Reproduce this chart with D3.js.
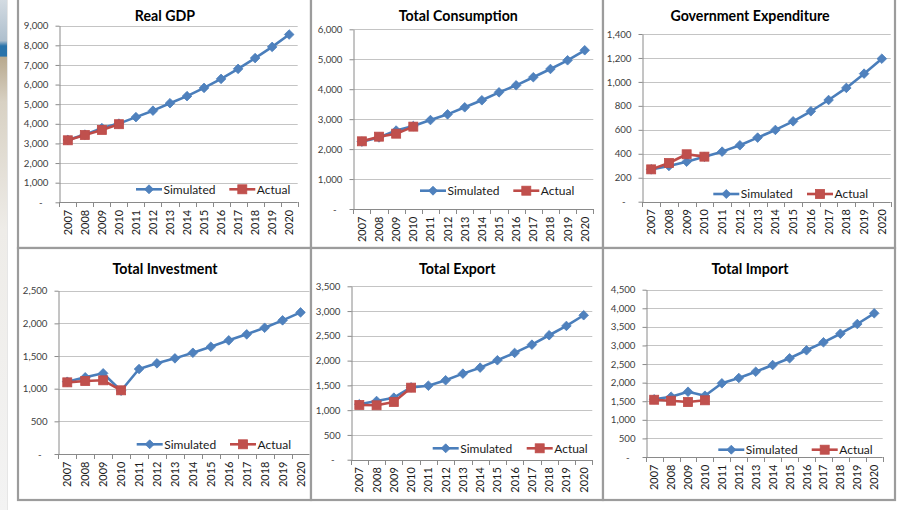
<!DOCTYPE html>
<html>
<head>
<meta charset="utf-8">
<script src="https://cdn.jsdelivr.net/npm/d3@7"></script>
<style>
  html, body { margin: 0; padding: 0; background: #ffffff; }
  svg { display: block; }
  text { font-family: Lato, "Open Sans", "Liberation Sans", sans-serif; }
</style>
</head>
<body>
<svg id="chart" width="905" height="510"></svg>
<script>
// Years on the category axis
const years = ['2007','2008','2009','2010','2011','2012','2013','2014','2015','2016','2017','2018','2019','2020'];

// Simulated series (2007-2020) and actual observations (2007-2010)
const gdpSim  = [3180, 3450, 3780, 4010, 4340, 4670, 5050, 5410, 5830, 6290, 6800, 7350, 7920, 8550];
const gdpAct  = [3160, 3430, 3690, 3980];
const consSim = [2250, 2390, 2620, 2770, 2970, 3160, 3395, 3630, 3895, 4130, 4400, 4675, 4965, 5300];
const consAct = [2260, 2415, 2515, 2750];
const govSim  = [270, 298, 334, 375, 418, 471, 535, 599, 671, 755, 849, 950, 1069, 1194];
const govAct  = [270, 323, 396, 376];
const invSim  = [1107, 1174, 1235, 969, 1301, 1388, 1464, 1550, 1642, 1740, 1832, 1933, 2046, 2168];
const invAct  = [1097, 1117, 1128, 975];
const expSim  = [1119, 1185, 1252, 1460, 1494, 1603, 1737, 1858, 2007, 2155, 2322, 2512, 2700, 2916];
const expAct  = [1105, 1098, 1165, 1454];
const impSim  = [1552, 1622, 1756, 1649, 1982, 2125, 2294, 2474, 2655, 2870, 3085, 3316, 3577, 3865];
const impAct  = [1540, 1514, 1479, 1525];

// Y-axis tick values per panel
const gdpTicks  = [0, 1000, 2000, 3000, 4000, 5000, 6000, 7000, 8000, 9000];
const consTicks = [0, 1000, 2000, 3000, 4000, 5000, 6000];
const govTicks  = [0, 200, 400, 600, 800, 1000, 1200, 1400];
const invTicks  = [0, 500, 1000, 1500, 2000, 2500];
const expTicks  = [0, 500, 1000, 1500, 2000, 2500, 3000, 3500];
const impTicks  = [0, 500, 1000, 1500, 2000, 2500, 3000, 3500, 4000, 4500];

const titles = ['Real GDP', 'Total Consumption', 'Government Expenditure',
                'Total Investment', 'Total Export', 'Total Import'];
const legendNames = ['Simulated', 'Actual'];

const simColor = '#4A7EBB', simFill = '#4F81BD';
const actColor = '#BE4B48', actFill = '#C0504D';

// Panel frames and plot-area geometry
const panels = [
  { title: titles[0], sim: gdpSim,  act: gdpAct,  ticks: gdpTicks,
    frame: [18, -2, 311, 248], plot: [59.3, 297.7, 25.7, 202.3], tx: 165, ty: 21, legX: 136, actX: 229.3, legY: 189.3 },
  { title: titles[1], sim: consSim, act: consAct, ticks: consTicks,
    frame: [311, -2, 603, 248], plot: [353.3, 593.3, 29.3, 209], tx: 458.3, ty: 21, legX: 420, actX: 513.3, legY: 190.7 },
  { title: titles[2], sim: govSim,  act: govAct,  ticks: govTicks,
    frame: [603, -2, 895, 248], plot: [642.3, 890.7, 34, 201.7], tx: 750, ty: 21, legX: 713.3, actX: 807, legY: 194 },
  { title: titles[3], sim: invSim,  act: invAct,  ticks: invTicks,
    frame: [18, 248, 311, 500], plot: [58.3, 309.5, 290.7, 454], tx: 165, ty: 273.5, legX: 136.7, actX: 230, legY: 444.3 },
  { title: titles[4], sim: expSim,  act: expAct,  ticks: expTicks,
    frame: [311, 248, 603, 500], plot: [350.7, 592.3, 286.3, 459.7], tx: 457.3, ty: 274, legX: 432.7, actX: 526.7, legY: 448.3 },
  { title: titles[5], sim: impSim,  act: impAct,  ticks: impTicks,
    frame: [603, 248, 895, 500], plot: [645.7, 882.7, 289.7, 457], tx: 750, ty: 274, legX: 718.3, actX: 811.7, legY: 449.7 }
];

const svg = d3.select('#chart');

// Slide edge strip on the far left
const defs = svg.append('defs');
const grad = defs.append('linearGradient').attr('id', 'edge').attr('x1', 0).attr('x2', 0).attr('y1', 0).attr('y2', 1);
[[0, '#d3dbe2'], [0.08, '#aebfcd'], [0.09, '#2a73aa'], [0.11, '#2a73aa'], [0.112, '#b8a98e'],
 [0.2, '#d8d1c3'], [0.45, '#eeece8'], [1, '#f3f3f3']].forEach(([o, c]) =>
  grad.append('stop').attr('offset', o).attr('stop-color', c));
svg.append('rect').attr('x', 0).attr('y', 0).attr('width', 7).attr('height', 510).attr('fill', 'url(#edge)');
svg.append('line').attr('x1', 7.5).attr('x2', 7.5).attr('y1', 0).attr('y2', 510)
  .attr('stroke', '#e6e6e6').attr('stroke-width', 1);

const fmt = d3.format(',');
const diamond = s => `M0,${-s}L${s},0L0,${s}L${-s},0Z`;

panels.forEach(p => {
  const g = svg.append('g');
  const [fx0, fy0, fx1, fy1] = p.frame;
  const [x0, x1, yTop, yBot] = p.plot;
  const yMax = p.ticks[p.ticks.length - 1];

  const x = d3.scaleBand().domain(years).range([x0, x1]).paddingInner(0).paddingOuter(0);
  const y = d3.scaleLinear().domain([0, yMax]).range([yBot, yTop]);
  const cx = d => x(d) + x.bandwidth() / 2;

  // Panel background and frame
  g.append('rect').attr('x', fx0).attr('y', fy0).attr('width', fx1 - fx0).attr('height', fy1 - fy0)
    .attr('fill', '#ffffff').attr('stroke', '#9c9c9c').attr('stroke-width', 2.2);

  // Horizontal gridlines
  g.append('g').selectAll('line').data(p.ticks.filter(t => t > 0)).join('line')
    .attr('x1', x0).attr('x2', x1)
    .attr('y1', d => Math.round(y(d)) + 0.5).attr('y2', d => Math.round(y(d)) + 0.5)
    .attr('stroke', '#c4c4c4').attr('stroke-width', 1);

  // Y axis
  const yAxis = d3.axisLeft(y).tickValues(p.ticks).tickSizeInner(4).tickSizeOuter(0).tickPadding(8)
    .tickFormat(d => d === 0 ? '-' : fmt(d));
  const ya = g.append('g').attr('transform', `translate(${Math.round(x0) + 0.5},0)`).call(yAxis);
  ya.select('.domain').attr('stroke', '#8a8a8a');
  ya.selectAll('.tick line').attr('stroke', '#8a8a8a');
  ya.selectAll('.tick text').attr('fill', '#404040').style('font-size', '9.7px')
    .attr('x', d => d === 0 ? -17 : -11);

  // X axis: baseline, boundary ticks and rotated year labels
  const xa = g.append('g');
  xa.append('line').attr('x1', x0).attr('x2', x1)
    .attr('y1', Math.round(yBot) + 0.5).attr('y2', Math.round(yBot) + 0.5).attr('stroke', '#8a8a8a');
  const bounds = years.map(d => x(d)).concat([x1]);
  xa.selectAll('line.tk').data(bounds).join('line').attr('class', 'tk')
    .attr('x1', d => Math.round(d) + 0.5).attr('x2', d => Math.round(d) + 0.5)
    .attr('y1', Math.round(yBot)).attr('y2', Math.round(yBot) + 5).attr('stroke', '#8a8a8a');
  xa.selectAll('text').data(years).join('text')
    .attr('transform', d => `translate(${cx(d) + 4},${yBot + 7.5}) rotate(-90)`)
    .attr('text-anchor', 'end').attr('fill', '#1a1a1a').style('font-size', '11px')
    .text(d => d);

  // Series lines
  const line = d3.line().x((d, i) => cx(years[i])).y(d => y(d));
  g.append('path').datum(p.sim).attr('d', line).attr('fill', 'none')
    .attr('stroke', simColor).attr('stroke-width', 2.6).attr('stroke-linejoin', 'round');
  g.append('g').selectAll('path').data(p.sim).join('path')
    .attr('d', diamond(4.8)).attr('transform', (d, i) => `translate(${cx(years[i])},${y(d)})`)
    .attr('fill', simFill).attr('stroke', simColor).attr('stroke-width', 0.8);

  g.append('path').datum(p.act).attr('d', line).attr('fill', 'none')
    .attr('stroke', actColor).attr('stroke-width', 2.6).attr('stroke-linejoin', 'round');
  g.append('g').selectAll('rect').data(p.act).join('rect')
    .attr('x', (d, i) => cx(years[i]) - 4.5).attr('y', d => y(d) - 4.5)
    .attr('width', 9).attr('height', 9)
    .attr('fill', actFill).attr('stroke', actColor).attr('stroke-width', 0.8);

  // Title
  g.append('text').attr('x', p.tx).attr('y', p.ty).attr('text-anchor', 'middle')
    .style('font-size', '14.2px').style('font-weight', 'bold').attr('fill', '#000').text(p.title);

  // Legend
  const lg = g.append('g');
  const legLen = 26;
  lg.append('line').attr('x1', p.legX).attr('x2', p.legX + legLen).attr('y1', p.legY).attr('y2', p.legY)
    .attr('stroke', simColor).attr('stroke-width', 2.6);
  lg.append('path').attr('d', diamond(4.5)).attr('transform', `translate(${p.legX + legLen / 2},${p.legY})`)
    .attr('fill', simFill).attr('stroke', simColor).attr('stroke-width', 0.8);
  lg.append('text').attr('x', p.legX + legLen + 1.5).attr('y', p.legY + 4.3)
    .style('font-size', '12px').attr('fill', '#1a1a1a').text(legendNames[0]);
  lg.append('line').attr('x1', p.actX).attr('x2', p.actX + legLen).attr('y1', p.legY).attr('y2', p.legY)
    .attr('stroke', actColor).attr('stroke-width', 2.6);
  lg.append('rect').attr('x', p.actX + legLen / 2 - 4.5).attr('y', p.legY - 4.5).attr('width', 9).attr('height', 9)
    .attr('fill', actFill).attr('stroke', actColor).attr('stroke-width', 0.8);
  lg.append('text').attr('x', p.actX + legLen + 1.5).attr('y', p.legY + 4.3)
    .style('font-size', '12px').attr('fill', '#1a1a1a').text(legendNames[1]);
});
</script>
</body>
</html>
